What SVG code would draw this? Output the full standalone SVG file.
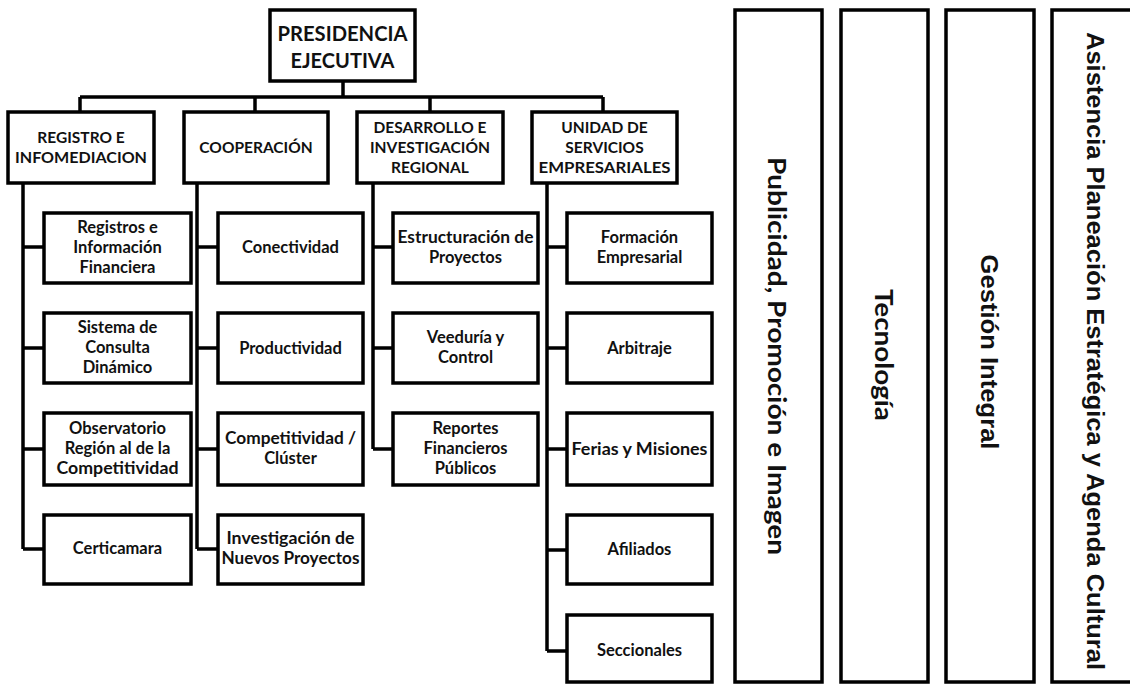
<svg xmlns="http://www.w3.org/2000/svg" width="1130" height="684" viewBox="0 0 1130 684">
<style>
.box{fill:#fff;stroke:#000;stroke-width:3.5}
.ln{fill:none;stroke:#000;stroke-width:3.5}
text{font-family:Lato,"Open Sans","Liberation Sans",sans-serif;font-weight:bold;fill:#111;text-anchor:middle;dominant-baseline:central}
.t1{font-size:20px}
.t2{font-size:15.5px}
.t3{font-size:16.5px}
.v{font-size:24px}
.va{font-family:"Liberation Sans",Arial,sans-serif;font-size:23px}
</style>
<g id="connectors">
<path class="ln" d="M343 81V97M80 97H603M80 97V112M255 97V112M430 97V112M603 97V112"/>
<path class="ln" d="M23 183V549M23 247H44M23 348H44M23 449H44M23 549H44"/>
<path class="ln" d="M197 183V549M197 247H218M197 348H218M197 449H218M197 549H218"/>
<path class="ln" d="M373 183V449M373 247H393M373 348H393M373 449H393"/>
<path class="ln" d="M547 183V651M547 247H567M547 348H567M547 449H567M547 550H567M547 651H567"/>
</g>
<g id="presidencia"><rect class="box" x="270" y="10" width="145" height="71"/><text class="t1" x="342.5" y="33" textLength="130" lengthAdjust="spacingAndGlyphs">PRESIDENCIA</text><text class="t1" x="342.5" y="60">EJECUTIVA</text></g>
<g id="registro"><rect class="box" x="8" y="112" width="146" height="71"/><text class="t2" x="81" y="137">REGISTRO E</text><text class="t2" x="81" y="157" textLength="132" lengthAdjust="spacingAndGlyphs">INFOMEDIACION</text></g>
<g id="cooperacion"><rect class="box" x="184" y="112" width="144" height="71"/><text class="t2" x="256" y="147">COOPERACIÓN</text></g>
<g id="desarrollo"><rect class="box" x="357" y="112" width="146" height="71"/><text class="t2" x="430" y="127">DESARROLLO E</text><text class="t2" x="430" y="147" textLength="120" lengthAdjust="spacingAndGlyphs">INVESTIGACIÓN</text><text class="t2" x="430" y="167">REGIONAL</text></g>
<g id="unidad"><rect class="box" x="532" y="112" width="145" height="71"/><text class="t2" x="604.5" y="127">UNIDAD DE</text><text class="t2" x="604.5" y="147">SERVICIOS</text><text class="t2" x="604.5" y="167" textLength="132" lengthAdjust="spacingAndGlyphs">EMPRESARIALES</text></g>

<g id="registros-info"><rect class="box" x="44" y="213" width="147" height="70"/><text class="t3" x="117.5" y="227">Registros e</text><text class="t3" x="117.5" y="247">Información</text><text class="t3" x="117.5" y="267">Financiera</text></g>
<g id="sistema-consulta"><rect class="box" x="44" y="313" width="147" height="70"/><text class="t3" x="117.5" y="327">Sistema de</text><text class="t3" x="117.5" y="347">Consulta</text><text class="t3" x="117.5" y="367">Dinámico</text></g>
<g id="observatorio"><rect class="box" x="44" y="413" width="147" height="72"/><text class="t3" x="117.5" y="428">Observatorio</text><text class="t3" x="117.5" y="448">Región al de la</text><text class="t3" x="117.5" y="468" textLength="122" lengthAdjust="spacingAndGlyphs">Competitividad</text></g>
<g id="certicamara"><rect class="box" x="44" y="515" width="147" height="69"/><text class="t3" x="117.5" y="548">Certicamara</text></g>

<g id="conectividad"><rect class="box" x="218" y="213" width="145" height="70"/><text class="t3" x="290.5" y="247">Conectividad</text></g>
<g id="productividad"><rect class="box" x="218" y="313" width="145" height="70"/><text class="t3" x="290.5" y="348">Productividad</text></g>
<g id="competitividad"><rect class="box" x="218" y="413" width="145" height="72"/><text class="t3" x="290.5" y="438" textLength="131" lengthAdjust="spacingAndGlyphs">Competitividad /</text><text class="t3" x="290.5" y="458">Clúster</text></g>
<g id="investigacion"><rect class="box" x="218" y="515" width="145" height="69"/><text class="t3" x="290.5" y="538" textLength="128" lengthAdjust="spacingAndGlyphs">Investigación de</text><text class="t3" x="290.5" y="558" textLength="138" lengthAdjust="spacingAndGlyphs">Nuevos Proyectos</text></g>

<g id="estructuracion"><rect class="box" x="393" y="213" width="145" height="70"/><text class="t3" x="465.5" y="237" textLength="136" lengthAdjust="spacingAndGlyphs">Estructuración de</text><text class="t3" x="465.5" y="257">Proyectos</text></g>
<g id="veeduria"><rect class="box" x="393" y="313" width="145" height="70"/><text class="t3" x="465.5" y="337">Veeduría y</text><text class="t3" x="465.5" y="357">Control</text></g>
<g id="reportes"><rect class="box" x="393" y="413" width="145" height="72"/><text class="t3" x="465.5" y="428">Reportes</text><text class="t3" x="465.5" y="448">Financieros</text><text class="t3" x="465.5" y="468">Públicos</text></g>

<g id="formacion"><rect class="box" x="567" y="213" width="145" height="70"/><text class="t3" x="639.5" y="237">Formación</text><text class="t3" x="639.5" y="257">Empresarial</text></g>
<g id="arbitraje"><rect class="box" x="567" y="313" width="145" height="70"/><text class="t3" x="639.5" y="348">Arbitraje</text></g>
<g id="ferias"><rect class="box" x="567" y="413" width="145" height="72"/><text class="t3" x="639.5" y="449" textLength="136" lengthAdjust="spacingAndGlyphs">Ferias y Misiones</text></g>
<g id="afiliados"><rect class="box" x="567" y="515" width="145" height="69"/><text class="t3" x="639.5" y="549">Afiliados</text></g>
<g id="seccionales"><rect class="box" x="567" y="615" width="145" height="67"/><text class="t3" x="639.5" y="650">Seccionales</text></g>

<g id="publicidad"><rect class="box" x="735" y="10" width="87" height="672"/><text class="v" transform="translate(777,356) rotate(90)" x="0" y="0" textLength="398" lengthAdjust="spacingAndGlyphs">Publicidad, Promoción e Imagen</text></g>
<g id="tecnologia"><rect class="box" x="841" y="10" width="87" height="672"/><text class="v" transform="translate(884,355) rotate(90)" x="0" y="0" textLength="132" lengthAdjust="spacingAndGlyphs">Tecnología</text></g>
<g id="gestion"><rect class="box" x="946" y="10" width="88" height="672"/><text class="va" transform="translate(989,352) rotate(90)" x="0" y="0" textLength="195" lengthAdjust="spacingAndGlyphs">Gestión Integral</text></g>
<g id="asistencia"><rect class="box" x="1052" y="10" width="86" height="672"/><text class="va" transform="translate(1095,351) rotate(90)" x="0" y="0" textLength="638" lengthAdjust="spacingAndGlyphs">Asistencia Planeación Estratégica y Agenda Cultural</text></g>
</svg>
